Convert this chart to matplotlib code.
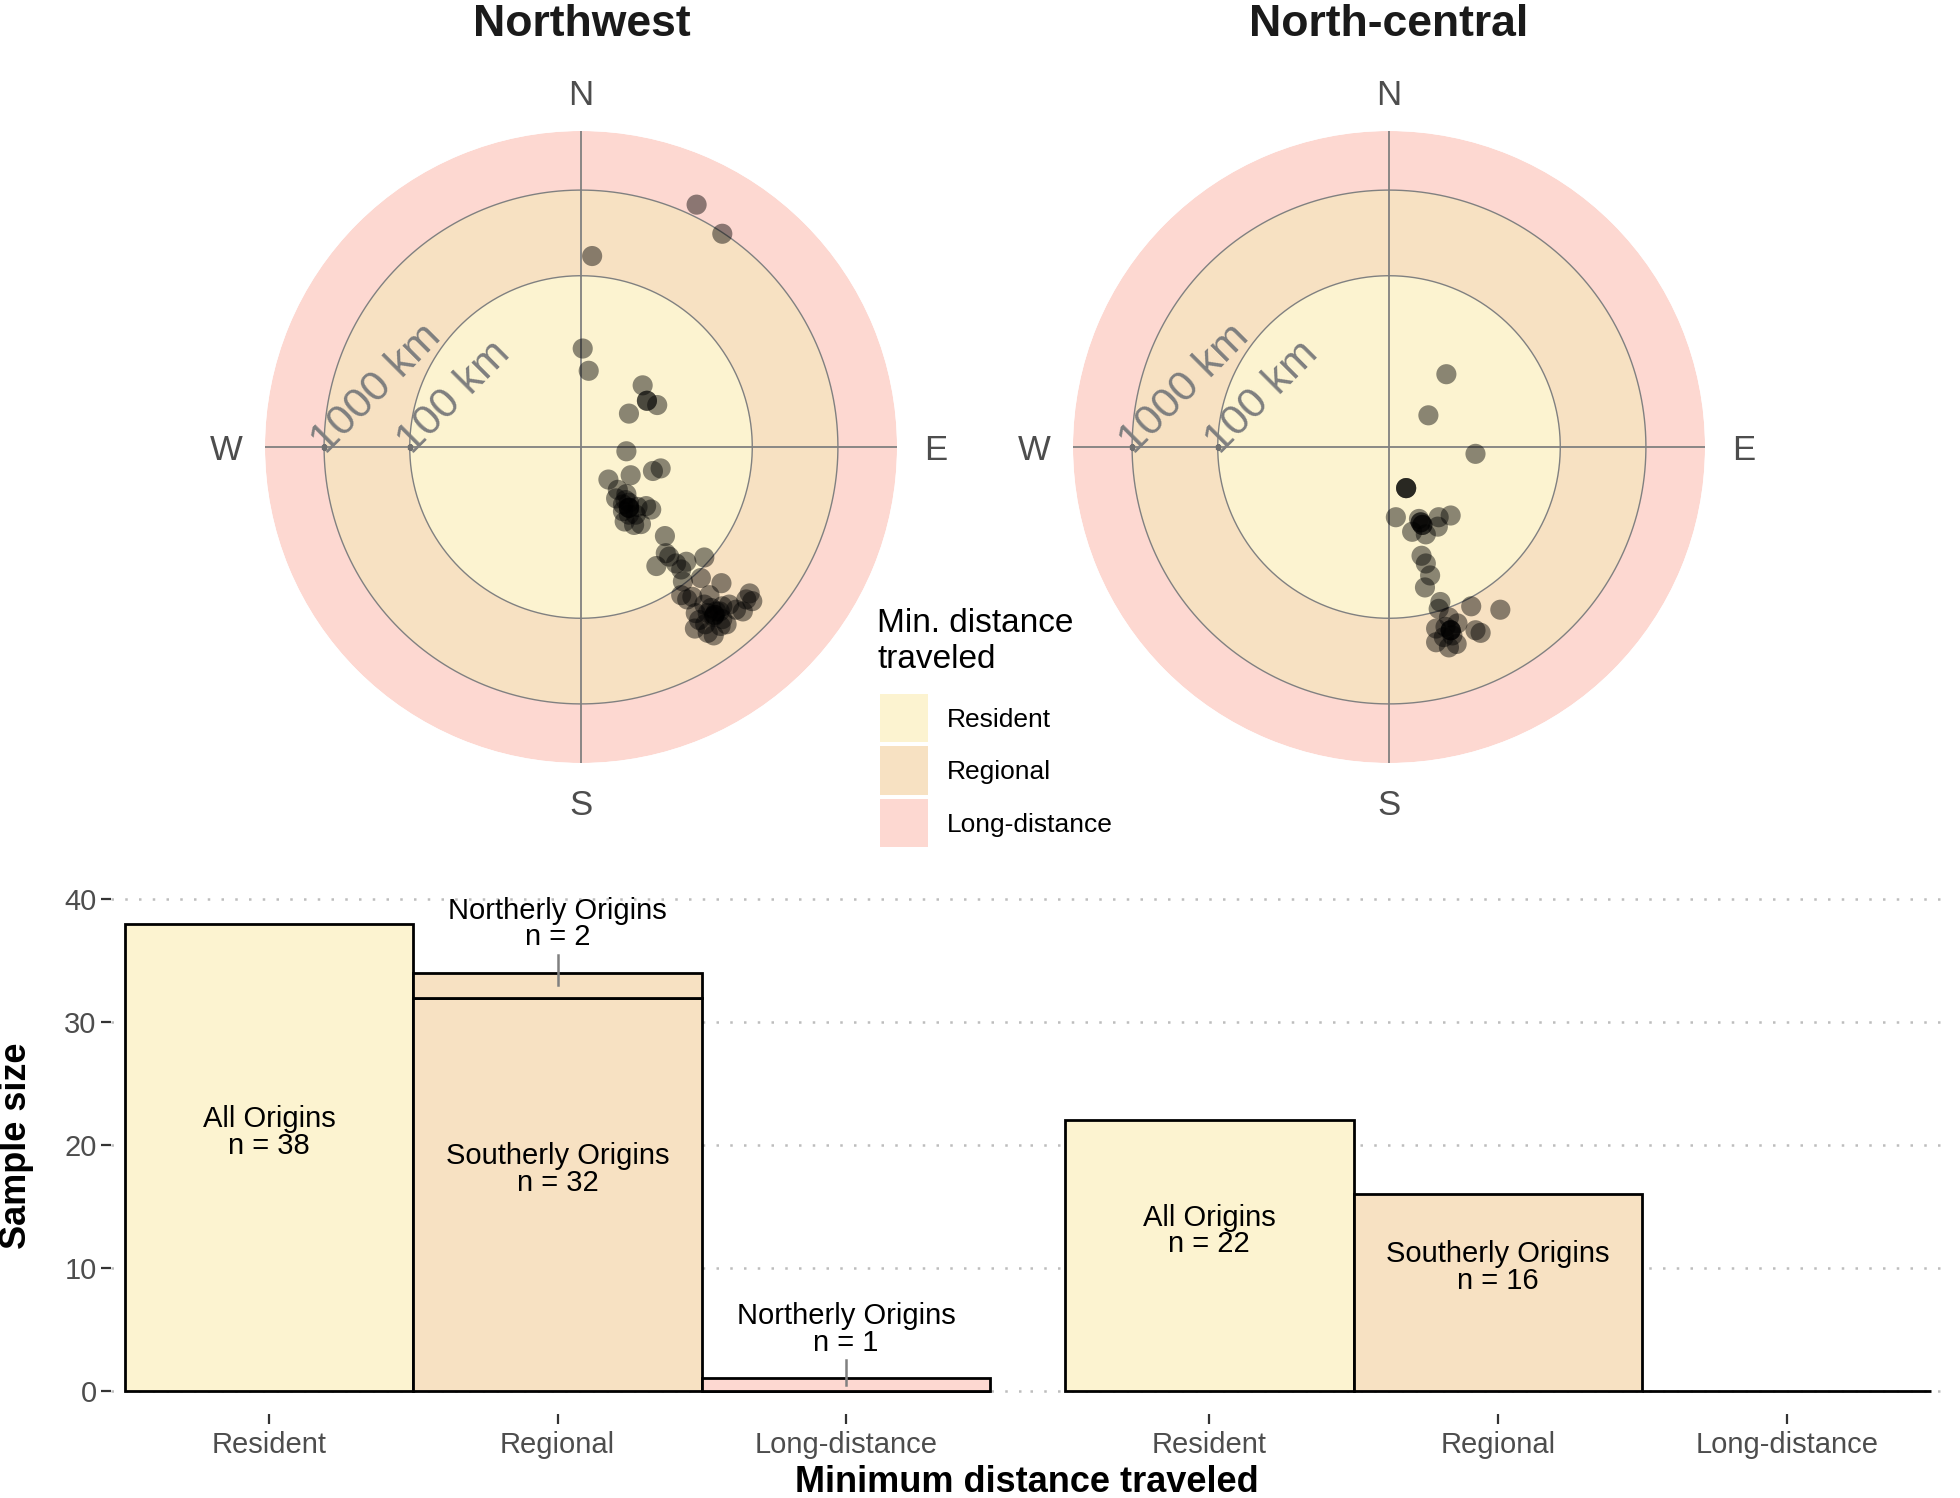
import numpy as np
import matplotlib
matplotlib.use('Agg')
import matplotlib.pyplot as plt
from matplotlib.patches import Rectangle

plt.rcParams['font.family'] = ['Liberation Sans', 'DejaVu Sans']

# ring colours (Resident / Regional / Long-distance)
classes = ['Resident', 'Regional', 'Long-distance']
class_colors = ['#FCF3D0', '#F7E1C2', '#FDD8D1']

# ring limits in log10(km)
ring_edges = [0, 2, 3, 3.69]
ring_labels = ['100 km', '1000 km']

# origin positions, east / north components in log10(km) units
nw_east = [1.35, 1.65, 0.13, 0.02, 0.09, 0.72, 0.77, 0.77, 0.89, 0.56, 0.53, 0.93, 0.84, 0.58,
           0.32, 0.43, 0.53, 0.41, 0.49, 0.56, 0.66, 0.76, 0.82, 0.49, 0.56, 0.64, 0.51, 0.62,
           0.70, 0.56, 0.56, 0.56, 0.52, 0.98, 0.99, 1.03, 0.88, 1.11, 1.23, 1.17, 1.44, 1.40,
           1.19, 1.64, 1.17, 1.30, 1.50, 1.34, 1.48, 1.58, 1.65, 1.73, 1.81, 1.89, 1.97, 2.00,
           1.93, 1.33, 1.48, 1.55, 1.70, 1.63, 1.45, 1.65, 1.55, 1.56, 1.56, 1.62, 1.44, 1.52,
           1.38, 1.24]
nw_north = [2.83, 2.49, 2.23, 1.15, 0.89, 0.72, 0.54, 0.54, 0.49, 0.39, -0.05, -0.25, -0.28, -0.33,
            -0.38, -0.50, -0.55, -0.60, -0.67, -0.65, -0.70, -0.69, -0.73, -0.75, -0.79, -0.79, -0.87, -0.91,
            -0.90, -0.71, -0.71, -0.71, -0.62, -1.04, -1.24, -1.28, -1.39, -1.36, -1.34, -1.43, -1.29, -1.53,
            -1.57, -1.59, -1.73, -1.75, -1.73, -1.94, -1.94, -1.92, -1.86, -1.84, -1.90, -1.92, -1.71, -1.80,
            -1.78, -2.12, -2.17, -2.20, -2.07, -2.09, -2.07, -2.01, -1.98, -1.96, -1.96, -1.92, -1.84, -1.88,
            -2.02, -1.78]

nc_east = [0.67, 0.46, 1.01, 0.20, 0.20, 0.20, 0.08, 0.35, 0.39, 0.39, 0.37, 0.58, 0.72, 0.27, 0.43,
           0.57, 0.38, 0.43, 0.48, 0.42, 0.60, 0.58, 0.37,
           0.96, 1.30, 0.70, 0.55, 0.72, 0.72, 0.72, 0.80, 1.01, 1.07, 0.55, 0.70, 0.79, 0.64,
           0.66, 0.74]
nc_north = [0.85, 0.37, -0.08, -0.48, -0.48, -0.48, -0.82, -0.84, -0.91, -0.91, -0.88, -0.82, -0.80, -0.99, -1.02,
            -0.93, -1.27, -1.36, -1.50, -1.64, -1.81, -1.89, -0.88,
            -1.86, -1.90, -1.99, -2.12, -2.14, -2.14, -2.14, -2.06, -2.14, -2.17, -2.28, -2.34, -2.30, -2.22,
            -2.10, -2.20]

# bar chart counts
nw_main = [38, 32, 0]
nw_northerly = [0, 2, 1]
nc_main = [22, 16, 0]
nc_northerly = [0, 0, 0]
nw_main_labels = ['All Origins', 'Southerly Origins', None]
nc_main_labels = ['All Origins', 'Southerly Origins', None]

W, H = 1960, 1498
fig = plt.figure(figsize=(W / 100, H / 100), dpi=100)

line_gray = '#808080'
text_gray = '#4D4D4D'


def polar_panel(rect, east, north, title, cx):
    ax = fig.add_axes(rect, projection='polar')
    ax.set_theta_zero_location('N')
    ax.set_theta_direction(-1)
    for lo, hi, c in zip(ring_edges[:-1], ring_edges[1:], class_colors):
        ax.bar(0, hi - lo, width=2 * np.pi, bottom=lo, color=c, edgecolor='none', zorder=1)
    th = np.linspace(0, 2 * np.pi, 500)
    for rr in ring_edges[1:3]:
        ax.plot(th, np.full_like(th, rr), color=line_gray, lw=1.0, zorder=2)
    for a in [0, np.pi / 2, np.pi, 3 * np.pi / 2]:
        ax.plot([a, a], [0, ring_edges[-1]], color=line_gray, lw=1.3, zorder=2)
    for rr, lab in zip(ring_edges[1:3], ring_labels):
        ax.plot([3 * np.pi / 2], [rr], marker='s', ms=3, color='#707070', zorder=3)
        ax.annotate(lab, xy=(3 * np.pi / 2, rr), xytext=(6, -10), textcoords='offset points',
                    rotation=45, rotation_mode='anchor', ha='left', va='bottom',
                    fontsize=31, color='#7F7F7F', zorder=4)
    east = np.array(east)
    north = np.array(north)
    ax.scatter(np.arctan2(east, north), np.hypot(east, north), s=210, c='black', alpha=0.45,
               edgecolors='none', zorder=5)
    for a, lab in zip([0, np.pi / 2, np.pi, 3 * np.pi / 2], ['N', 'E', 'S', 'W']):
        ax.text(a, 4.14, lab, ha='center', va='center_baseline', fontsize=25, color=text_gray,
                clip_on=False)
    ax.set_ylim(0, ring_edges[-1])
    ax.grid(False)
    ax.set_xticks([])
    ax.set_yticks([])
    ax.spines['polar'].set_visible(False)
    ax.set_facecolor('none')
    fig.text(cx / W, 1 - 25 / H, title, ha='center', va='center', fontsize=32, fontweight='bold',
             color='#1A1A1A')
    return ax


polar_panel([265 / W, 1 - 763 / H, 632 / W, 632 / H], nw_east, nw_north, 'Northwest', 582)
polar_panel([1073 / W, 1 - 763 / H, 632 / W, 632 / H], nc_east, nc_north, 'North-central', 1389)

# legend
fig.text(877 / W, 1 - 608 / H, 'Min. distance\ntraveled', ha='left', va='top', fontsize=24,
         linespacing=1.2, color='black')
for i, (lab, c) in enumerate(zip(classes, class_colors)):
    top = 694 + i * 52.5
    fig.add_artist(Rectangle((880 / W, 1 - (top + 48) / H), 48 / W, 48 / H, transform=fig.transFigure,
                             facecolor=c, edgecolor='none'))
    fig.text(947 / W, 1 - (top + 26) / H, lab, ha='left', va='center', fontsize=19, color='black')


def bar_panel(rect, xlim, main, northerly, main_labels, show_y):
    ax = fig.add_axes(rect)
    x = np.arange(1, 4)
    ax.bar(x, main, width=1, color=class_colors, edgecolor='black', lw=2.0, zorder=3)
    for xi, m, n, c in zip(x, main, northerly, class_colors):
        if n > 0:
            ax.bar(xi, n, bottom=m, width=1, color=c, edgecolor='black', lw=2.0, zorder=3)
            ax.plot([xi, xi], [m + n + 1.5, m + n / 2], color=line_gray, lw=1.8, zorder=4)
            ax.text(xi, m + n + 4, 'Northerly Origins\nn = %d' % n, ha='center', va='center',
                    fontsize=21, linespacing=0.95, zorder=5)
    for xi, m, lab in zip(x, main, main_labels):
        if lab is not None and m > 0:
            ax.text(xi, m / 2 + 2, '%s\nn = %d' % (lab, m), ha='center', va='center',
                    fontsize=21, linespacing=0.95, zorder=5)
    ax.set_xlim(*xlim)
    ax.set_ylim(-1.9, 41.5)
    ax.set_yticks([0, 10, 20, 30, 40])
    ax.set_xticks(x)
    ax.set_xticklabels(classes)
    ax.yaxis.grid(True, linestyle=(0, (1, 4.5)), color='#BDBDBD', lw=1.8, zorder=0)
    ax.set_axisbelow(True)
    for s in ax.spines.values():
        s.set_visible(False)
    ax.tick_params(axis='x', length=7, width=1.6, color='#333333', labelsize=21,
                   labelcolor=text_gray, pad=5)
    if show_y:
        ax.tick_params(axis='y', length=7, width=1.6, color='#333333', labelsize=21,
                       labelcolor=text_gray, pad=3)
    else:
        ax.tick_params(axis='y', length=0, labelleft=False)
    ax.set_facecolor('none')
    return ax


bar_panel([110.6 / W, 1 - 1414 / H, 916.4 / W, 533 / H], (0.45, 3.628),
          nw_main, nw_northerly, nw_main_labels, True)
bar_panel([1030 / W, 1 - 1414 / H, 915.4 / W, 533 / H], (0.379, 3.55),
          nc_main, nc_northerly, nc_main_labels, False)

fig.text(1027 / W, 1 - 1482 / H, 'Minimum distance traveled', ha='center', va='center', fontsize=26,
         fontweight='bold')
fig.text(16 / W, 1 - 1146 / H, 'Sample size', ha='center', va='center', rotation=90, fontsize=26,
         fontweight='bold')

fig.savefig('out.png', dpi=100, facecolor='white')
